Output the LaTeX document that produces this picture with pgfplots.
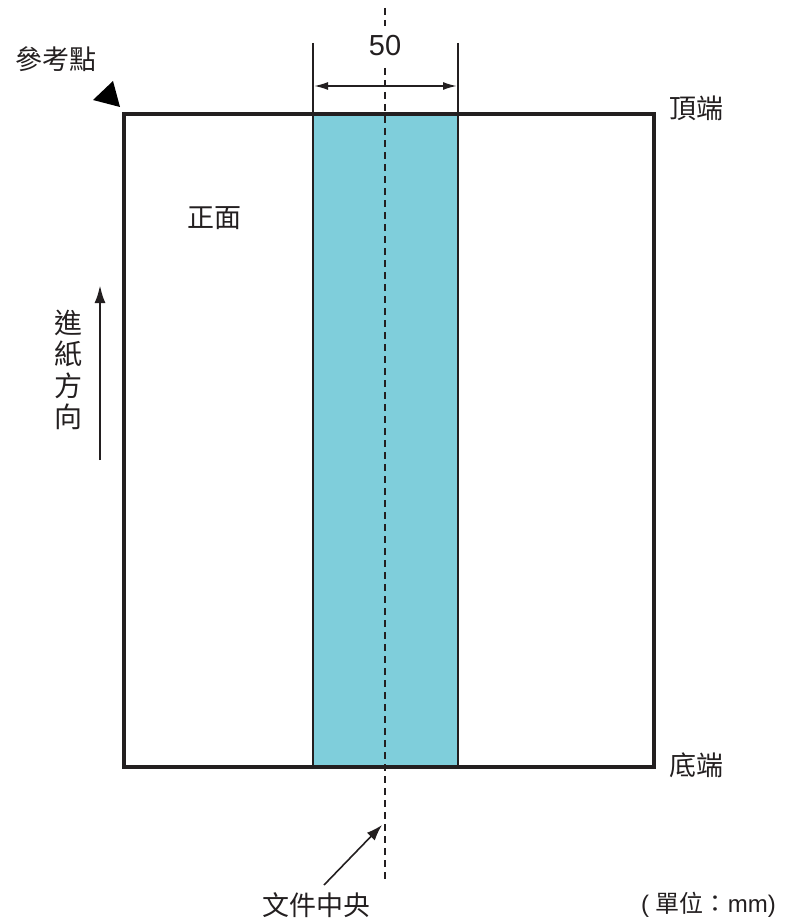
\documentclass[border=0pt]{standalone}
\usepackage{fontspec}
\setmainfont{Liberation Sans}
\newfontfamily\cjk{Noto Sans CJK TC}
\usepackage{pgfplots}
\pgfplotsset{compat=1.18}
\usetikzlibrary{arrows.meta}
\definecolor{bandblue}{HTML}{7FCEDB}
\definecolor{ink}{HTML}{231F20}
\begin{document}
\begin{tikzpicture}
\begin{axis}[
  width=803pt, height=923pt, scale only axis,
  xmin=0, xmax=803, ymin=0, ymax=923, y dir=reverse,
  hide axis, clip=false]
\path (axis cs:0,0) rectangle (axis cs:803,923);
% paper
\addplot[draw=ink, line width=3.2pt, fill=white] coordinates {(124,114) (654,114) (654,767) (124,767)} --cycle;
% band
\addplot[draw=ink, line width=2.6pt, fill=bandblue] coordinates {(313,114) (458,114) (458,767) (313,767)} --cycle;
\addplot[draw=ink, line width=3.2pt] coordinates {(124,114) (654,114)};
\addplot[draw=ink, line width=3.2pt] coordinates {(124,767) (654,767)};
% centre line
\addplot[draw=ink, line width=1.4pt, dash pattern=on 7pt off 5pt] coordinates {(385,8) (385,26)};
\addplot[draw=ink, line width=1.4pt, dash pattern=on 7pt off 5pt] coordinates {(385,68) (385,880)};
% dimension
\addplot[draw=ink, line width=1.5pt] coordinates {(313,43) (313,114)};
\addplot[draw=ink, line width=1.5pt] coordinates {(458,43) (458,114)};
\addplot[draw=ink, line width=1.8pt, {Latex[length=14pt,width=8pt]}-{Latex[length=14pt,width=8pt]}] coordinates {(314,86) (457,86)};
\node[font=\fontsize{29}{32}\selectfont, text=ink] at (axis cs:385,46) {50};
% reference triangle
\addplot[draw=none, fill=black] coordinates {(93,100) (113,81) (120,107)} --cycle;
\node[font=\cjk\fontsize{27}{30}\selectfont, text=ink, anchor=west, inner sep=0pt] at (axis cs:15,59) {參考點};
% labels
\node[font=\cjk\fontsize{27}{30}\selectfont, text=ink, anchor=west, inner sep=0pt] at (axis cs:669,108) {頂端};
\node[font=\cjk\fontsize{27}{30}\selectfont, text=ink, anchor=west, inner sep=0pt] at (axis cs:669,765) {底端};
\node[font=\cjk\fontsize{27}{30}\selectfont, text=ink, anchor=west, inner sep=0pt] at (axis cs:187,218) {正面};
% feed direction
\addplot[draw=ink, line width=2.6pt, -{Latex[length=18pt,width=11pt]}] coordinates {(100,460) (100,285)};
\node[font=\cjk\fontsize{28}{31.5}\selectfont, text=ink, align=center, inner sep=0pt] at (axis cs:68,370) {進\\紙\\方\\向};
% doc centre
\addplot[draw=ink, line width=1.6pt, -{Latex[length=16pt,width=11pt]}] coordinates {(324,885) (382,825)};
\node[font=\cjk\fontsize{27}{30}\selectfont, text=ink, anchor=west, inner sep=0pt] at (axis cs:262,905) {文件中央};
\node[font=\fontsize{24}{28}\selectfont, text=ink, anchor=west, inner sep=0pt] at (axis cs:641,905) {( {\cjk 單位：}mm)};
\end{axis}
\end{tikzpicture}
\end{document}
